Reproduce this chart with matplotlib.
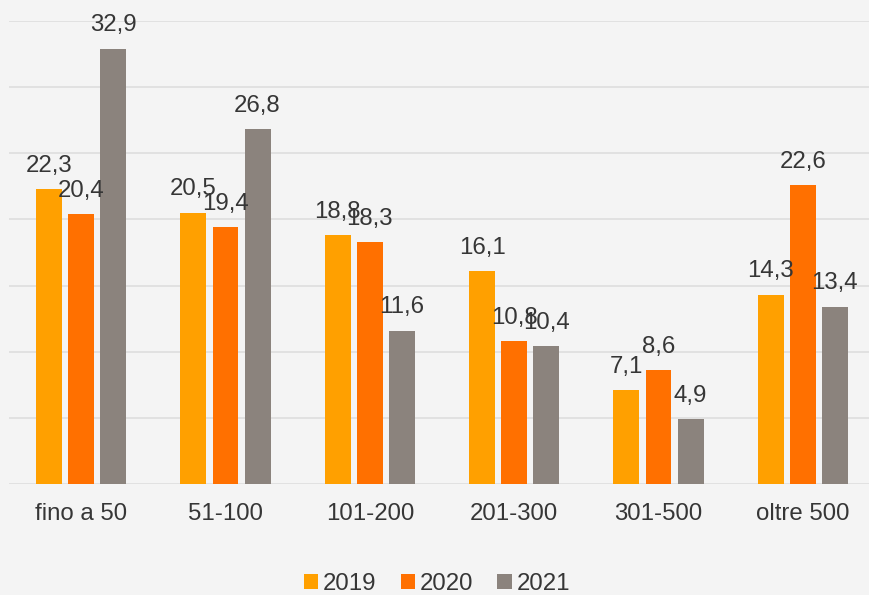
import numpy as np
import matplotlib.pyplot as plt

plt.rcParams['font.family'] = ['Liberation Sans', 'DejaVu Sans']

categories = ['fino a 50', '51-100', '101-200', '201-300', '301-500', 'oltre 500']
years = ['2019', '2020', '2021']
v2019 = [22.3, 20.5, 18.8, 16.1, 7.1, 14.3]
v2020 = [20.4, 19.4, 18.3, 10.8, 8.6, 22.6]
v2021 = [32.9, 26.8, 11.6, 10.4, 4.9, 13.4]
colors = ['#FFA000', '#FF7000', '#8B837D']

bg = '#F4F4F4'
fig = plt.figure(figsize=(8.7, 5.95), dpi=100, facecolor=bg)
ax = fig.add_axes([9 / 870, 111 / 595, 866 / 870, 463 / 595], facecolor=bg)

x = np.arange(len(categories))
width = 0.18
pitch = 0.222
series = [v2019, v2020, v2021]
for i, (vals, c, yr) in enumerate(zip(series, colors, years)):
    pos = x + (i - 1) * pitch
    ax.bar(pos, vals, width, color=c, label=yr, zorder=3)
    for xp, v in zip(pos, vals):
        ax.annotate(f'{v:.1f}'.replace('.', ','), (xp, v), xytext=(0, 12.5),
                    textcoords='offset points', ha='center', va='baseline',
                    fontsize=17.3, color='#363636', zorder=4)

ax.set_xlim(-0.5, 5.5)
ax.set_ylim(0, 35)
ax.set_yticks(np.arange(0, 36, 5))
ax.yaxis.grid(True, color='#E0E0E0', linewidth=1.3, zorder=0)
ax.tick_params(axis='y', left=False, labelleft=False)
ax.tick_params(axis='x', bottom=False, labelsize=17.3, labelcolor='#363636', pad=10)
ax.set_xticks(x)
ax.set_xticklabels(categories)
for s in ax.spines.values():
    s.set_visible(False)

fig.legend(loc='center', bbox_to_anchor=(437 / 870, 1 - 584 / 595), ncol=3, frameon=False,
           fontsize=17.3, handlelength=0.6, handleheight=0.6, handletextpad=0.2,
           columnspacing=1.0, labelcolor='#363636')

fig.savefig('out.png', dpi=100, facecolor=bg)
